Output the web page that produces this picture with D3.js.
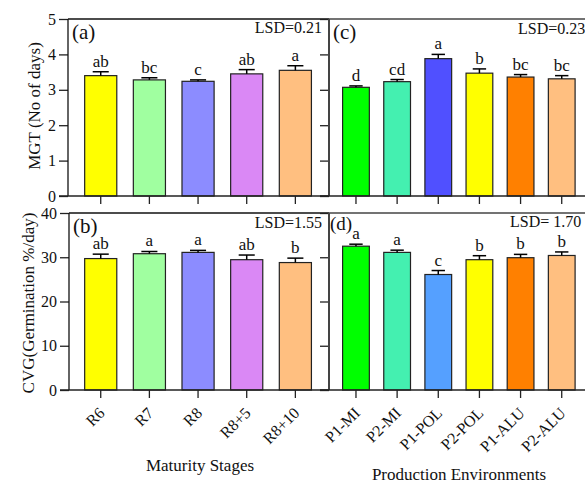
<!DOCTYPE html>
<html>
<head>
<meta charset="utf-8">
<script src="https://cdn.jsdelivr.net/npm/d3@7/dist/d3.min.js"></script>
<style>
  body { margin: 0; background: #fff; }
  text { font-family: "Liberation Serif", "Times New Roman", serif; fill: #111; }
</style>
</head>
<body>
<script>
// categories
let maturity = ["R6", "R7", "R8", "R8+5", "R8+10"];
let environments = ["P1-MI", "P2-MI", "P1-POL", "P2-POL", "P1-ALU", "P2-ALU"];

// MGT (days)
let mgtMaturity = [3.40, 3.28, 3.24, 3.45, 3.55];
let mgtMaturityErr = [0.11, 0.06, 0.04, 0.12, 0.13];
let mgtMaturityLetters = ["ab", "bc", "c", "ab", "a"];
let mgtEnv = [3.07, 3.23, 3.88, 3.47, 3.36, 3.31];
let mgtEnvErr = [0.04, 0.06, 0.12, 0.12, 0.07, 0.09];
let mgtEnvLetters = ["d", "cd", "a", "b", "bc", "bc"];

// CVG (% / day)
let cvgMaturity = [29.7, 30.8, 31.1, 29.45, 28.8];
let cvgMaturityErr = [1.0, 0.5, 0.45, 1.05, 1.0];
let cvgMaturityLetters = ["ab", "a", "a", "ab", "b"];
let cvgEnv = [32.5, 31.1, 26.1, 29.45, 29.9, 30.4];
let cvgEnvErr = [0.45, 0.5, 0.9, 0.9, 0.75, 0.8];
let cvgEnvLetters = ["a", "a", "c", "b", "b", "b"];

let mgtTicks = [0, 1, 2, 3, 4, 5];
let cvgTicks = [0, 10, 20, 30, 40];

let maturityColors = ["#ffff00", "#a0ffa0", "#8c8cff", "#da88f5", "#ffbf80"];
let envColorsC = ["#00ff00", "#44f0b0", "#5050ff", "#ffff00", "#ff8000", "#ffbf80"];
let envColorsD = ["#00ff00", "#44f0b0", "#55a0ff", "#ffff00", "#ff8000", "#ffbf80"];

let svg = d3.select("body").append("svg")
    .attr("width", 585)
    .attr("height", 485);

let xLeft = d3.scaleBand().domain(maturity).range([76.4, 319.7]).paddingInner(0.34).paddingOuter(0.17);
let xRight = d3.scaleBand().domain(environments).range([335.4, 582.3]).paddingInner(0.35).paddingOuter(0.175);
let yTop = d3.scaleLinear().domain([0, 5]).range([196, 19]);
let yBot = d3.scaleLinear().domain([0, 40]).range([390, 213]);

function Panel(p) {
    let g = svg.append("g");
    let x = p.x, y = p.y;
    let y0 = y.range()[0], y1 = y.range()[1];

    // bars
    g.selectAll()
        .data(p.values)
        .enter()
        .append("rect")
        .attr("x", function (d, i) { return x(p.cats[i]) })
        .attr("y", function (d) { return y(d) })
        .attr("width", x.bandwidth())
        .attr("height", function (d) { return y0 - y(d) })
        .style("fill", function (d, i) { return p.colors[i] })
        .style("stroke", "#222")
        .style("stroke-width", 1.2);

    // error bars (upper only)
    let cap = x.bandwidth() / 4;
    p.values.forEach(function (v, i) {
        let cx = x(p.cats[i]) + x.bandwidth() / 2;
        let top = y(v + p.errs[i]);
        g.append("line").attr("x1", cx).attr("x2", cx).attr("y1", y(v)).attr("y2", top)
            .style("stroke", "#000").style("stroke-width", 1.5);
        g.append("line").attr("x1", cx - cap).attr("x2", cx + cap).attr("y1", top).attr("y2", top)
            .style("stroke", "#000").style("stroke-width", 1.5);
        g.append("text")
            .attr("x", cx)
            .attr("y", top - 5)
            .attr("text-anchor", "middle")
            .style("font-size", "17px")
            .text(p.letters[i]);
    });

    // left axis
    let yAxis = d3.axisLeft(y).tickValues(p.ticks).tickSize(9).tickSizeOuter(0).tickPadding(3)
        .tickFormat(d3.format("d"));
    if (!p.yLabels) yAxis.tickFormat("");
    let ya = g.append("g").attr("transform", "translate(" + p.left + ",0)").call(yAxis)
        .attr("font-family", "Liberation Serif")
        .attr("font-size", 16);
    ya.select(".domain").remove();
    ya.selectAll("line").style("stroke", "#222").style("stroke-width", 1.3);
    ya.selectAll("text").style("fill", "#111");

    // bottom axis ticks
    let xAxis = d3.axisBottom(x).tickSize(8).tickFormat("");
    let xa = g.append("g").attr("transform", "translate(0," + y0 + ")").call(xAxis);
    xa.select(".domain").remove();
    xa.selectAll("line").style("stroke", "#222").style("stroke-width", 1.3);

    // frame: left, top, bottom
    g.append("line").attr("x1", p.left).attr("x2", p.left).attr("y1", y1).attr("y2", y0)
        .style("stroke", p.frameColor).style("stroke-width", p.frameWidth);
    g.append("line").attr("x1", p.left).attr("x2", p.right).attr("y1", y1).attr("y2", y1)
        .style("stroke", p.frameColor).style("stroke-width", 1.4);
    g.append("line").attr("x1", p.left - 9).attr("x2", p.right).attr("y1", y0).attr("y2", y0)
        .style("stroke", "#222").style("stroke-width", 1.4);

    if (p.xLabels) {
        g.selectAll()
            .data(p.cats)
            .enter()
            .append("text")
            .attr("transform", function (d) {
                return "translate(" + (x(d) + x.bandwidth() / 2 + 5) + "," + (y0 + 24) + ") rotate(-45)"
            })
            .attr("text-anchor", "end")
            .style("font-size", "16px")
            .text(function (d) { return d });
    }

    g.append("text")
        .attr("x", p.tagX).attr("y", p.tagY)
        .style("font-size", p.tagSize)
        .text(p.tag);
    g.append("text")
        .attr("x", p.lsdX).attr("y", p.lsdY)
        .attr("text-anchor", p.lsdAnchor)
        .style("font-size", "16px")
        .text(p.lsd);
}

Panel({ x: xLeft, y: yTop, cats: maturity, values: mgtMaturity, errs: mgtMaturityErr, letters: mgtMaturityLetters,
    colors: maturityColors, ticks: mgtTicks, yLabels: true, xLabels: false, left: 68, right: 329,
    frameColor: "#111", frameWidth: 1.3,
    tag: "(a)", tagX: 72, tagY: 39, tagSize: "21px", lsd: "LSD=0.21", lsdX: 322, lsdY: 33, lsdAnchor: "end" });

Panel({ x: xRight, y: yTop, cats: environments, values: mgtEnv, errs: mgtEnvErr, letters: mgtEnvLetters,
    colors: envColorsC, ticks: mgtTicks, yLabels: false, xLabels: false, left: 329, right: 590,
    frameColor: "#444", frameWidth: 2,
    tag: "(c)", tagX: 333, tagY: 39, tagSize: "21px", lsd: "LSD=0.23", lsdX: 518, lsdY: 34, lsdAnchor: "start" });

Panel({ x: xLeft, y: yBot, cats: maturity, values: cvgMaturity, errs: cvgMaturityErr, letters: cvgMaturityLetters,
    colors: maturityColors, ticks: cvgTicks, yLabels: true, xLabels: true, left: 69, right: 329,
    frameColor: "#111", frameWidth: 1.3,
    tag: "(b)", tagX: 73, tagY: 233, tagSize: "21px", lsd: "LSD=1.55", lsdX: 322, lsdY: 228, lsdAnchor: "end" });

Panel({ x: xRight, y: yBot, cats: environments, values: cvgEnv, errs: cvgEnvErr, letters: cvgEnvLetters,
    colors: envColorsD, ticks: cvgTicks, yLabels: false, xLabels: true, left: 329, right: 590,
    frameColor: "#444", frameWidth: 2,
    tag: "(d)", tagX: 330, tagY: 230, tagSize: "19px", lsd: "LSD= 1.70", lsdX: 510, lsdY: 227, lsdAnchor: "start" });

// axis titles
svg.append("text")
    .attr("transform", "translate(40,106) rotate(-90)")
    .attr("text-anchor", "middle")
    .style("font-size", "17px")
    .text("MGT (No of days)");
svg.append("text")
    .attr("transform", "translate(34,303) rotate(-90)")
    .attr("text-anchor", "middle")
    .style("font-size", "17px")
    .text("CVG(Germination %/day)");
svg.append("text")
    .attr("x", 200).attr("y", 471)
    .attr("text-anchor", "middle")
    .style("font-size", "17px")
    .text("Maturity Stages");
svg.append("text")
    .attr("x", 459).attr("y", 480)
    .attr("text-anchor", "middle")
    .style("font-size", "17px")
    .text("Production Environments");
</script>
</body>
</html>
